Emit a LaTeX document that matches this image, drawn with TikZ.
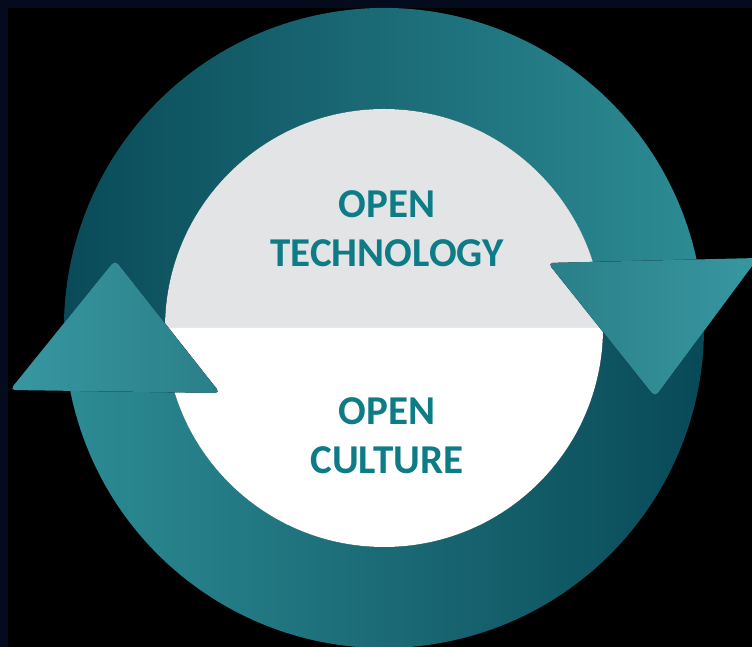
\documentclass[tikz,border=0pt]{standalone}
\usepackage{fontspec}
\setmainfont{Carlito}
\usetikzlibrary{calc, positioning}

\definecolor{navybg}{HTML}{030B1C}
\definecolor{arcdark}{HTML}{084856}
\definecolor{arclight}{HTML}{2C8B94}
\definecolor{headdark}{HTML}{2A7F88}
\definecolor{headlight}{HTML}{3797A1}
\definecolor{halfgrey}{HTML}{E3E4E6}
\definecolor{labelteal}{HTML}{0E7C86}

\begin{document}
\begin{tikzpicture}[x=1pt, y=1pt,
        topring/.style={left color=arcdark, right color=arclight},
        bottomring/.style={left color=arclight, right color=arcdark},
        head/.style={rounded corners=5pt},
        label/.style={font=\bfseries\fontsize{41}{49}\selectfont, text=labelteal, align=center}]

        % Background
        \fill[navybg] (0,0) rectangle (752,647);
        \fill[black] (8,0) rectangle (752,639);
        \useasboundingbox (0,0) rectangle (752,647);

        \coordinate (c) at (384,319);

        % Ring
        \fill[topring] ($(c)+(12:320pt)$) arc[start angle=12, end angle=190, radius=320pt]
            -- ($(c)+(190:219pt)$) arc[start angle=190, end angle=12, radius=219pt] -- cycle;
        \fill[bottomring] ($(c)+(191:320pt)$) arc[start angle=191, end angle=365, radius=320pt]
            -- ($(c)+(365:219pt)$) arc[start angle=365, end angle=191, radius=219pt] -- cycle;

        % Inner circle
        \fill[halfgrey] ($(c)+(0:219pt)$) arc[start angle=0, end angle=180, radius=219pt] -- cycle;
        \fill[white] ($(c)+(180:219pt)$) arc[start angle=180, end angle=360, radius=219pt] -- cycle;

        % Arrow heads
        \fill[head, left color=headdark, right color=headlight] (548,384) -- (758,389) -- (655,250) -- cycle;
        \fill[head, left color=headlight, right color=headdark] (10,257) -- (115,387) -- (220,254) -- cycle;

        % Nodes
        \node[label] (tech) at (387,418.5) {OPEN\\TECHNOLOGY};
        \node[label] (culture) at (387,211.5) {OPEN\\CULTURE};
    \end{tikzpicture}
\end{document}
